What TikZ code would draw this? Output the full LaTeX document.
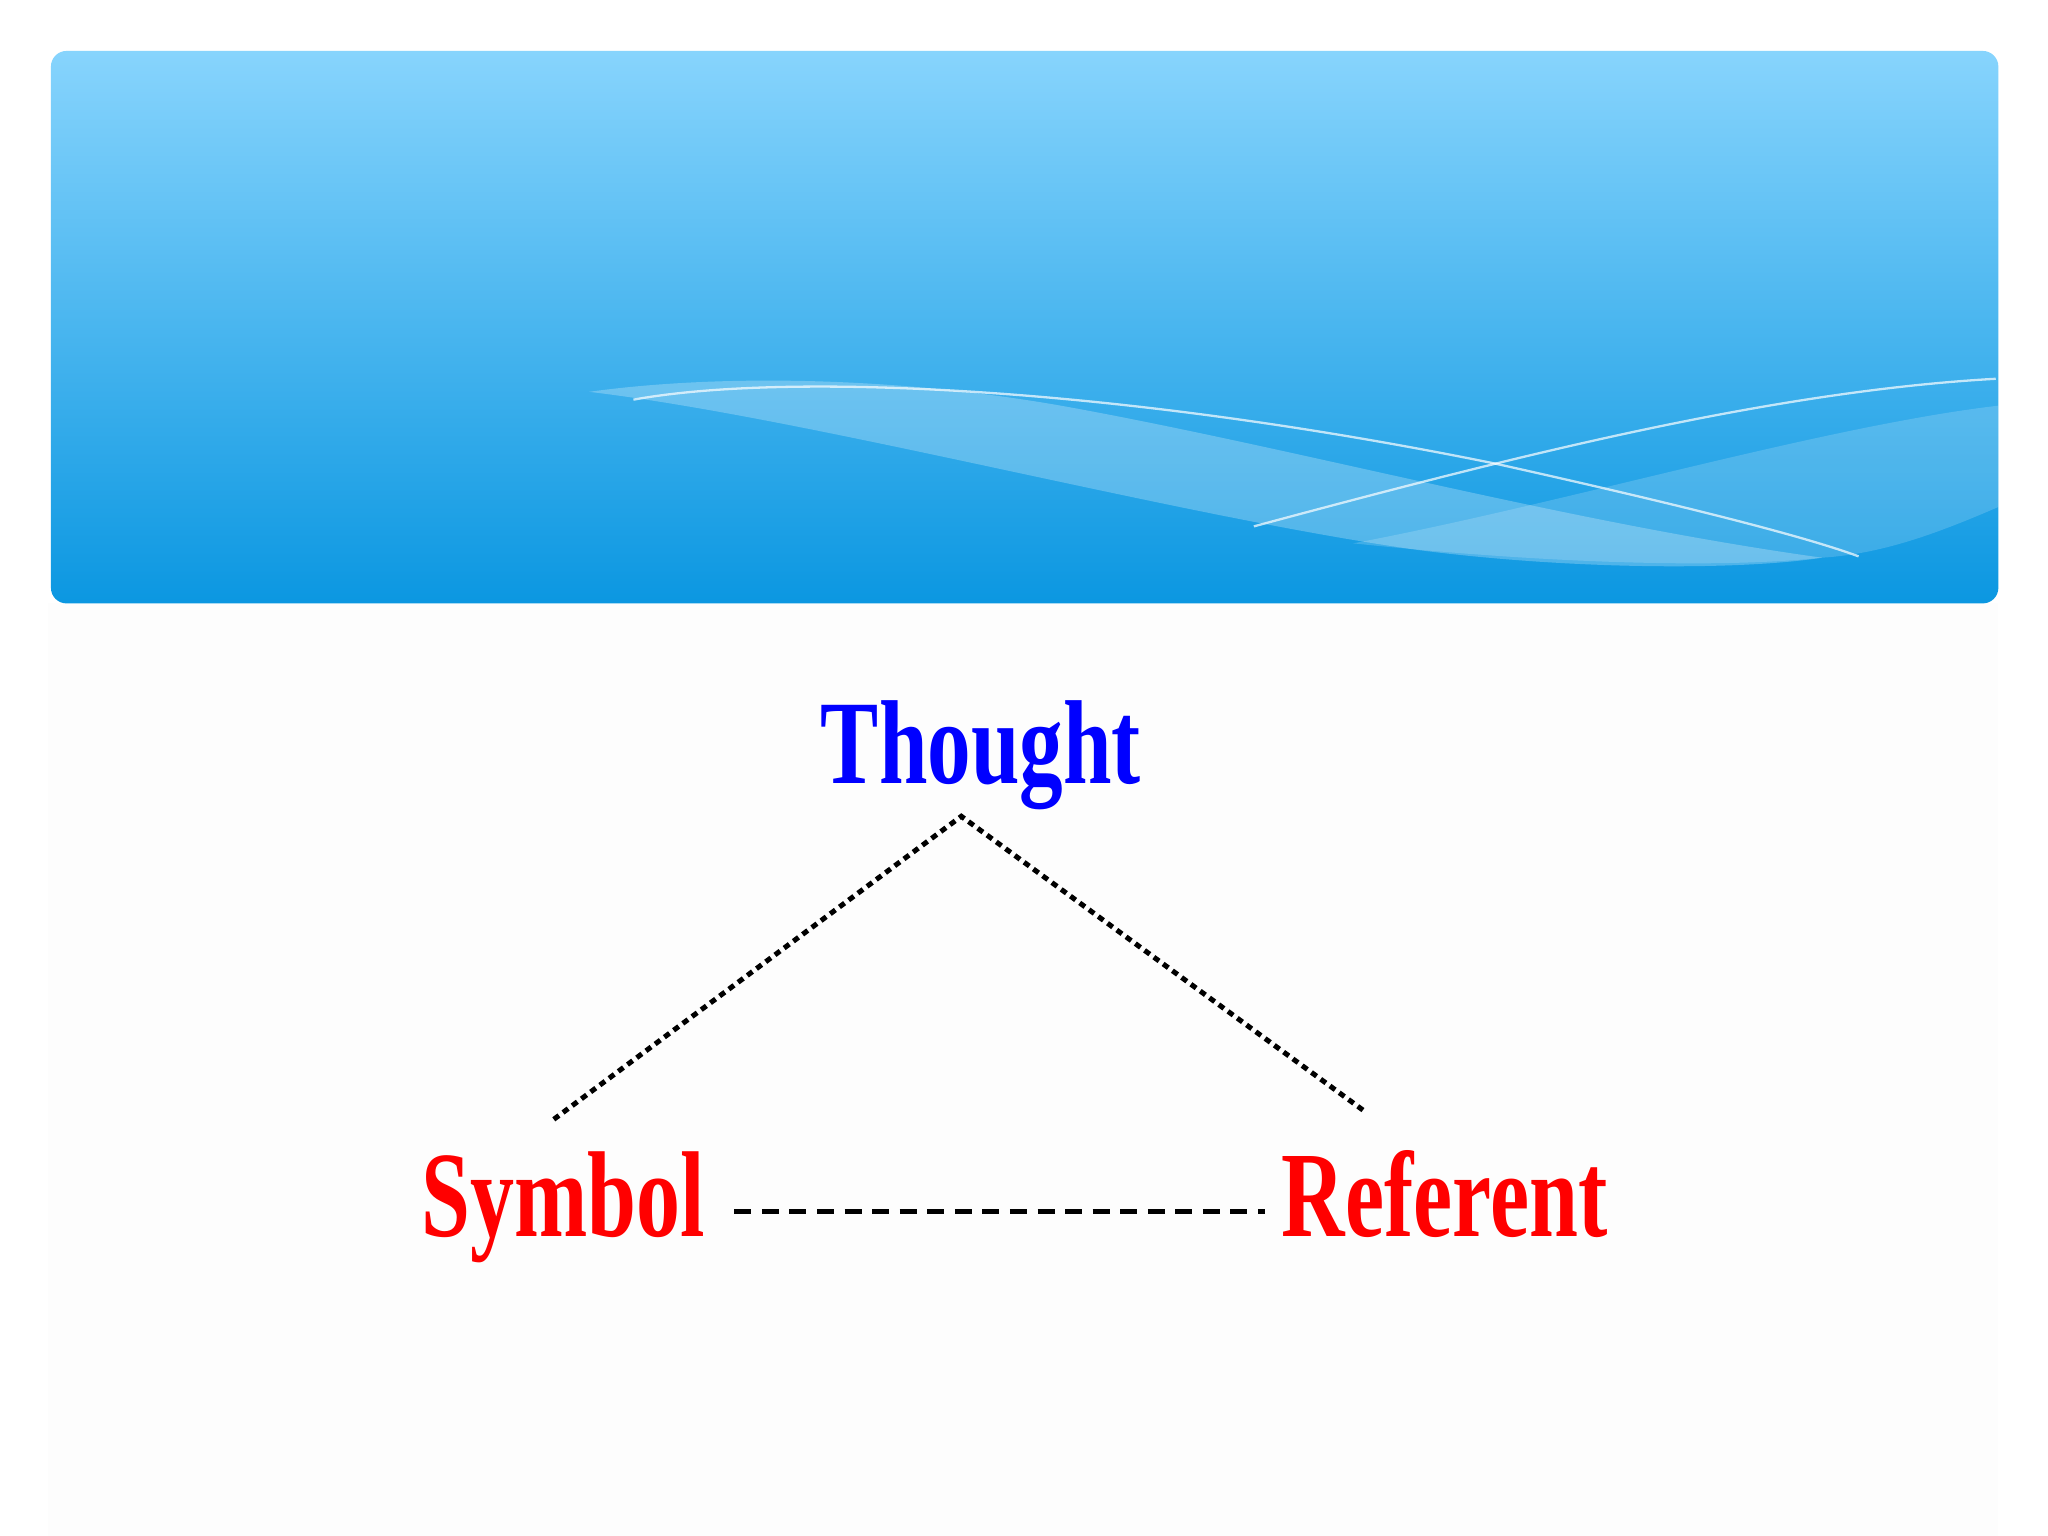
\documentclass[tikz,border=0pt]{standalone}
\usepackage{fontspec}
\setmainfont{Liberation Serif}
\usetikzlibrary{calc}

\definecolor{hdtop}{HTML}{87D4FD}
\definecolor{hdmid}{HTML}{56B9F1}
\definecolor{hdbot}{HTML}{0B97E1}
\definecolor{thblue}{HTML}{0000FF}
\definecolor{wdred}{HTML}{FF0000}
\definecolor{pagebg}{HTML}{FDFDFD}

\tikzset{
  word/.style={inner sep=0pt, anchor=base, font=\bfseries,
    text height=18pt, text depth=7pt},
  tie/.style={line width=1.1pt, dash pattern=on 1.4pt off 1.1pt},
  link/.style={line width=1.15pt, dash pattern=on 3.7pt off 2.3pt},
  wave/.style={white, line width=0.5pt, opacity=0.7}
}

\begin{document}
\begin{tikzpicture}[x=0.01cm, y=-0.01cm]
    % page and body panel
    \fill[white] (0,0) rectangle (1568,1176);
    \useasboundingbox (0,0) rectangle (1568,1176);
    \fill[pagebg] (37,462) rectangle (1530,1176);

    % Draw the header band with its gradient
    \shade[top color=hdtop, middle color=hdmid, bottom color=hdbot, rounded corners=3.4pt]
      (39,39) rectangle (1530,462);

    % Draw the light waves inside the header
    \begin{scope}
      \clip[rounded corners=3.4pt] (39,39) rectangle (1530,462);
      \fill[white, opacity=0.25]
        (451,300) .. controls (560,285) and (700,290) .. (820,312)
        .. controls (1000,345) and (1200,400) .. (1395,427)
        .. controls (1330,437) and (1200,436) .. (1085,421)
        .. controls (900,395) and (620,320) .. (451,300) -- cycle;
      \fill[white, opacity=0.17]
        (1036,416) .. controls (1200,385) and (1400,325) .. (1535,310)
        -- (1535,386) .. controls (1480,410) and (1440,424) .. (1395,427)
        .. controls (1300,437) and (1150,428) .. (1036,416) -- cycle;
      \draw[wave] (485,306) .. controls (600,285) and (850,295) .. (1145,355)
        .. controls (1280,385) and (1380,410) .. (1423,426);
      \draw[wave] (960,403) .. controls (1150,352) and (1350,300) .. (1528,290);
    \end{scope}

    % The three words
    \node[word, text=thblue, font=\bfseries\fontsize{26}{31}\selectfont] (thought) at (751,600)
      {\scalebox{0.73}[1]{Thought}};
    \node[word, text=wdred, font=\bfseries\fontsize{26.6}{32}\selectfont] (symbol) at (431,947)
      {\scalebox{0.72}[1]{Symbol}};
    \node[word, text=wdred, font=\bfseries\fontsize{26.6}{32}\selectfont] (referent) at (1106,947)
      {\scalebox{0.72}[1]{Referent}};

    % The triangle of links
    \coordinate (apex) at (736,625);
    \coordinate (symtip) at (424,857);
    \coordinate (reftip) at (1045,851);
    \draw[tie] (symtip) -- (apex) -- (reftip);
    \draw[link, shorten <=0.22cm, shorten >=0.12cm] (symbol.east) -- (referent.west);
  \end{tikzpicture}
\end{document}
